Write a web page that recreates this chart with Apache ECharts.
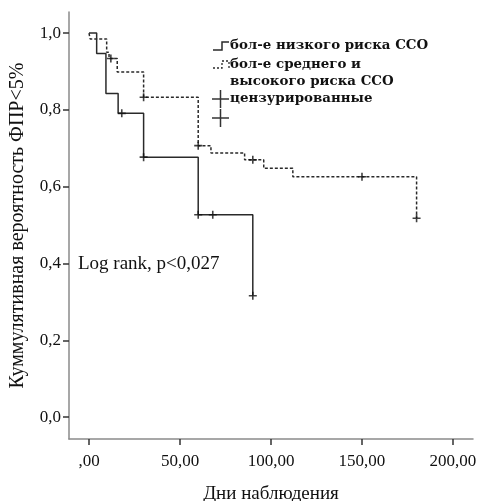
<!DOCTYPE html>
<html><head><meta charset="utf-8">
<script src="https://cdn.jsdelivr.net/npm/echarts@6/dist/echarts.min.js"></script>
<style>html,body{margin:0;padding:0;background:#fff}#c{width:481px;height:501px}</style>
</head><body><div id="c"></div>
<script>
// Low-risk group (solid)
const lowTimes = [0, 4.2, 9.3, 16, 30, 60, 90];
const lowSurv  = [1.0, 0.947, 0.843, 0.791, 0.677, 0.527, 0.316];
const lowCensT = [18, 30, 60, 68, 90];
const lowCensS = [0.791, 0.677, 0.527, 0.527, 0.316];
// Medium/high-risk group (dashed)
const midTimes = [0, 0.6, 9.7, 11, 15.5, 30, 60, 67, 85.5, 96, 112, 180];
const midSurv  = [1.0, 0.985, 0.95, 0.934, 0.899, 0.833, 0.707, 0.688, 0.670, 0.648, 0.626, 0.518];
const midCensT = [12, 30, 60, 90, 150, 180];
const midCensS = [0.934, 0.833, 0.707, 0.670, 0.626, 0.518];
// Ticks
const xTicks = [0, 50, 100, 150, 200];
const yTicks = [0, 0.2, 0.4, 0.6, 0.8, 1.0];
const xTickLabels = [',00', '50,00', '100,00', '150,00', '200,00'];
const yTickLabels = ['0,0', '0,2', '0,4', '0,6', '0,8', '1,0'];
const legendNames = ['бол-е низкого риска ССО', 'бол-е среднего и\nвысокого риска ССО', 'цензурированные', ''];

const zip = (a, b) => a.map((v, i) => [v, b[i]]);
const PLUS = 'path://M4,0h2v4h4v2h-4v4h-2v-4h-4v-2h4z';
const serif = '"Liberation Serif", "DejaVu Serif", serif';
const legFont = 'bold 13.4px "DejaVu Serif", "Liberation Serif", serif';
const axisCol = '#8a8a8a';

const chart = echarts.init(document.getElementById('c'), null, {renderer: 'canvas'});
chart.setOption({
  animation: false,
  backgroundColor: '#fff',
  grid: {left: 69, top: 12, width: 404, height: 427, containLabel: false, outerBoundsMode: 'none'},
  xAxis: {
    type: 'value', min: -11, max: 211,
    axisLine: {show: true, onZero: false, lineStyle: {color: axisCol, width: 1.5}},
    axisTick: {show: true, length: 6, customValues: xTicks, lineStyle: {color: '#333', width: 1.5}},
    axisLabel: {customValues: xTicks, margin: 14, color: '#111', fontFamily: serif, fontSize: 17,
      formatter: v => xTickLabels[xTicks.indexOf(v)] ?? ''},
    splitLine: {show: false},
    name: 'Дни наблюдения', nameLocation: 'middle', nameGap: 46,
    nameTextStyle: {color: '#111', fontFamily: serif, fontSize: 19}
  },
  yAxis: {
    type: 'value', min: -0.057, max: 1.055,
    axisLine: {show: true, onZero: false, lineStyle: {color: axisCol, width: 1.5}},
    axisTick: {show: true, length: 6, customValues: yTicks, lineStyle: {color: '#333', width: 1.5}},
    axisLabel: {customValues: yTicks, margin: 8, color: '#111', fontFamily: serif, fontSize: 17,
      formatter: v => { const i = yTicks.findIndex(t => Math.abs(t - v) < 1e-6); return i >= 0 ? yTickLabels[i] : ''; }},
    splitLine: {show: false},
    name: 'Куммулятивная вероятность ФПР<5%', nameLocation: 'middle', nameGap: 41,
    nameTextStyle: {color: '#111', fontFamily: serif, fontSize: 20}
  },
  series: [
    {type: 'line', step: 'end', data: zip(lowTimes, lowSurv), showSymbol: false, symbol: 'none',
      lineStyle: {color: '#2a2a2a', width: 1.5}},
    {type: 'line', step: 'end', data: zip(midTimes, midSurv), showSymbol: false, symbol: 'none',
      lineStyle: {color: '#2a2a2a', width: 1.5, type: [3, 2]}},
    {type: 'scatter', data: zip(lowCensT, lowCensS), symbol: PLUS, symbolSize: 8,
      itemStyle: {color: '#111'}, z: 5},
    {type: 'scatter', data: zip(midCensT, midCensS), symbol: PLUS, symbolSize: 8,
      itemStyle: {color: '#111'}, z: 5}
  ],
  graphic: [
    // legend icons
    {type: 'polyline', shape: {points: [[213, 50], [222, 50], [222, 42], [229, 42]]}, style: {stroke: '#2a2a2a', lineWidth: 1.5, fill: null}},
    {type: 'polyline', shape: {points: [[213, 68], [222, 68], [222, 61], [229, 61], [229, 68]]}, style: {stroke: '#2a2a2a', lineWidth: 1.3, lineDash: [2, 2], fill: null}},
    {type: 'line', shape: {x1: 212, y1: 99, x2: 229, y2: 99}, style: {stroke: '#333', lineWidth: 1.5}},
    {type: 'line', shape: {x1: 220.5, y1: 90, x2: 220.5, y2: 108}, style: {stroke: '#333', lineWidth: 1.5}},
    {type: 'line', shape: {x1: 212, y1: 118, x2: 229, y2: 118}, style: {stroke: '#333', lineWidth: 1.5}},
    {type: 'line', shape: {x1: 220.5, y1: 109, x2: 220.5, y2: 127}, style: {stroke: '#333', lineWidth: 1.5}},
    // legend texts
    {type: 'text', left: 230, top: 39, style: {text: legendNames[0], font: legFont, fill: '#111'}},
    {type: 'text', left: 230, top: 56, style: {text: legendNames[1], font: legFont, fill: '#111', lineHeight: 17}},
    {type: 'text', left: 230, top: 92, style: {text: legendNames[2], font: legFont, fill: '#111'}},
    // annotation
    {type: 'text', left: 78, top: 255, style: {text: 'Log rank, p<0,027', font: '19px ' + serif, fill: '#111'}}
  ]
});
</script></body></html>
